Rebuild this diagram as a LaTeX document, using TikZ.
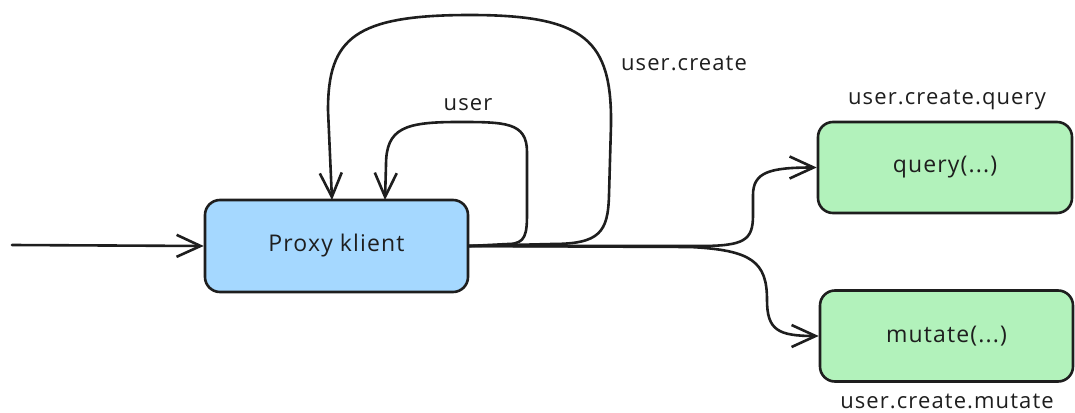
\documentclass[tikz,border=0pt]{standalone}
\usepackage{fontspec}
\setmainfont{Open Sans}[LetterSpace=5]
\usetikzlibrary{arrows.meta}
\definecolor{ink}{HTML}{1E1E1E}
\definecolor{blueF}{HTML}{A5D8FF}
\definecolor{greenF}{HTML}{B2F2BB}
\tikzset{
  box/.style={draw=ink, line width=2.6pt, rounded corners=15pt, inner sep=0pt},
  wire/.style={draw=ink, line width=2.6pt, line cap=round, line join=round},
  tip/.style={-{Straight Barb[length=24pt,width=22pt]}},
  boxtext/.style={font=\fontsize{23}{27}\selectfont, text=ink},
  lbl/.style={font=\fontsize{22}{26}\selectfont, text=ink, inner sep=0pt}
}
\begin{document}
\begin{tikzpicture}[x=1pt,y=-1pt]
  \useasboundingbox (0,0) rectangle (1075,412);

  % boxes
  \node[box, fill=blueF, minimum width=263pt, minimum height=92pt, boxtext] (proxy) at (336.5,246) {Proxy klient};
  \node[box, fill=greenF, minimum width=254pt, minimum height=91pt, boxtext] (query) at (945,167.5) {query(...)};
  \node[box, fill=greenF, minimum width=253pt, minimum height=91pt, boxtext] (mutate) at (946.5,336) {mutate(...)};

  % incoming call
  \coordinate (start) at (12,245);
  \draw[wire, tip] (start) -- (proxy.west);

  % property access: user
  \coordinate (userIn) at (385,200);
  \draw[wire, tip] (proxy.east) -- (508,244)
    .. controls (526,244) and (527,234) .. (527,212)
    -- (527,152)
    .. controls (527,122) and (505,122) .. (458,122)
    .. controls (405,122) and (386,128) .. (386,165)
    -- (userIn);

  % property access: user.create
  \coordinate (createIn) at (332,200);
  \draw[wire, tip] (proxy.east) -- (552,244)
    .. controls (600,244) and (608,232) .. (609,195)
    -- (611,125)
    .. controls (612,40) and (585,15) .. (470,15)
    .. controls (355,15) and (328,38) .. (328,110)
    -- (createIn);

  % terminal call: query
  \draw[wire, tip] (proxy.east) -- (700,246)
    .. controls (745,246) and (753,240) .. (753,215)
    -- (753,195)
    .. controls (753,172) and (770,167.5) .. (query.west);

  % terminal call: mutate
  \draw[wire, tip] (proxy.east) -- (690,247)
    .. controls (752,250) and (767,262) .. (767,300)
    .. controls (767,330) and (778,336) .. (mutate.west);

  % path labels
  \node[lbl] (lUser) at (468,105) {user};
  \node[lbl] (lCreate) at (684,63) {user.create};
  \node[lbl] (lQuery) at (947,100) {user.create.query};
  \node[lbl] (lMutate) at (947,401) {user.create.mutate};
\end{tikzpicture}
\end{document}
